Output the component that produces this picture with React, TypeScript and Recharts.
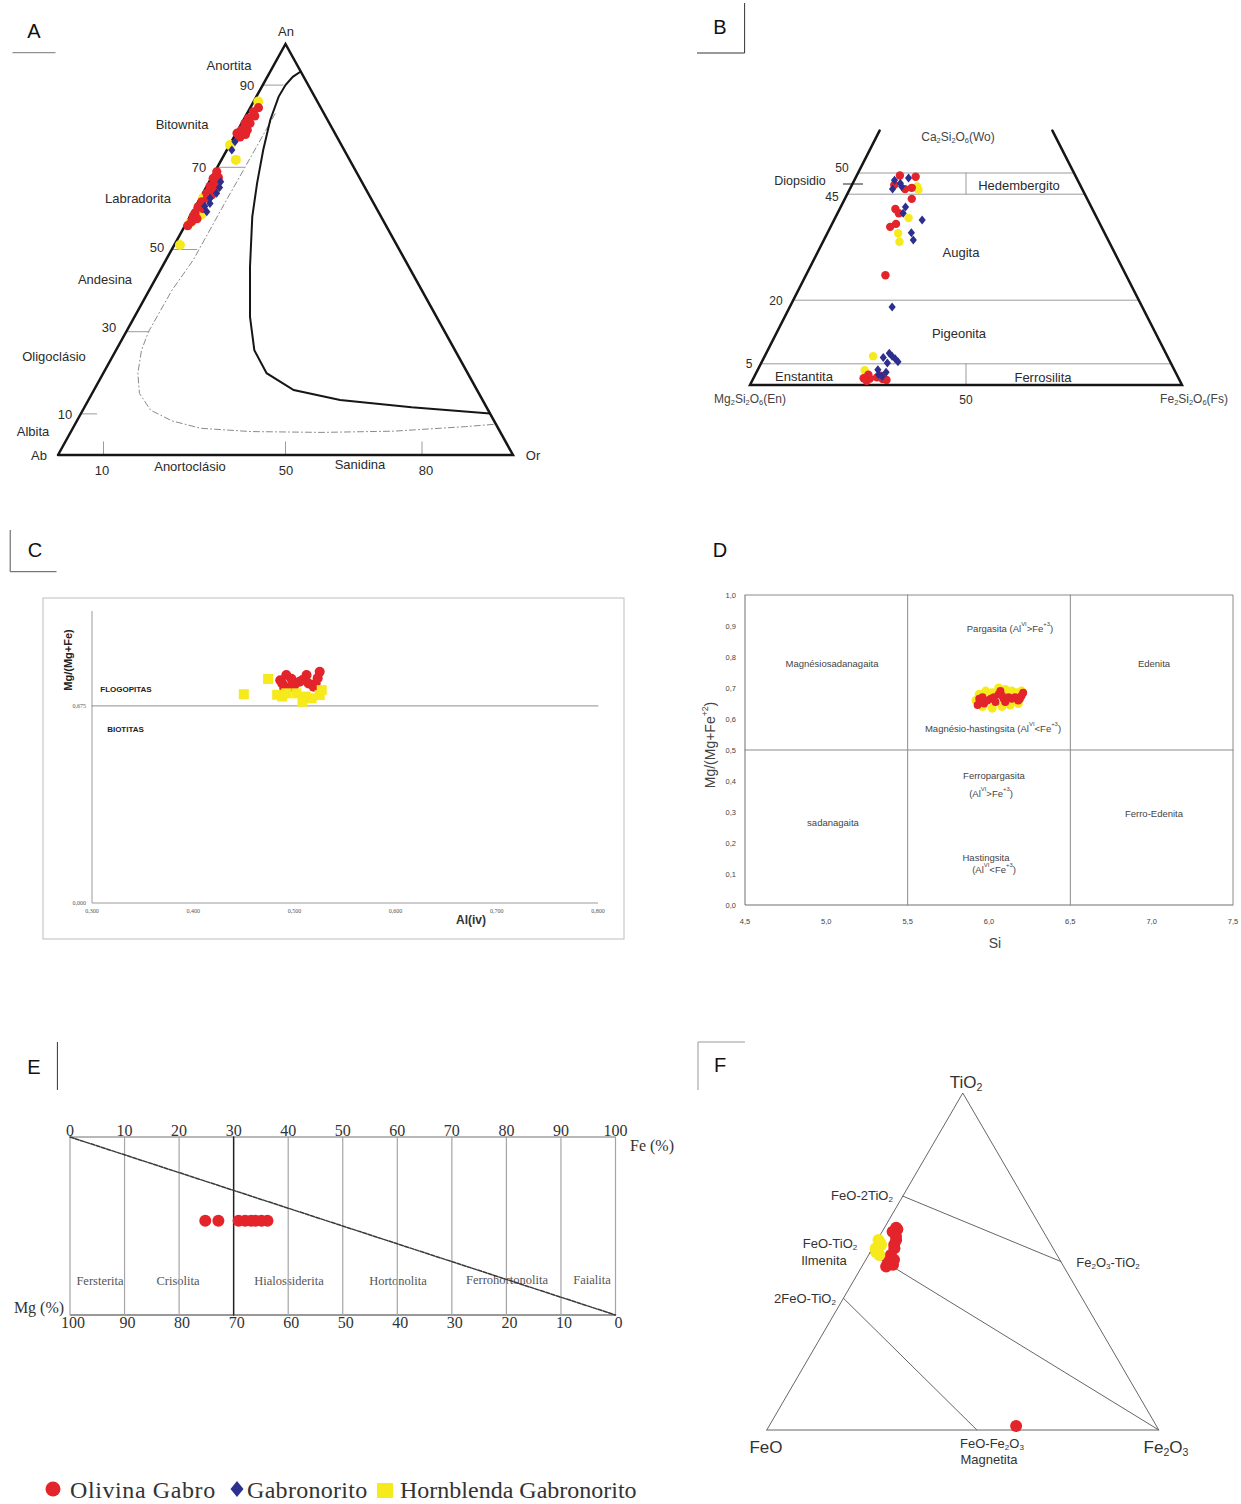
import React, { FC, ReactNode } from 'react';
import { Scatter, ScatterChart, XAxis, YAxis } from 'recharts';

const PAGE_W = 1241;
const PAGE_H = 1504;

const RED = '#e3242b';
const BLUE = '#2c2f8e';
const YELLOW = '#f6e91c';
const INK = '#161616';
const GREY = '#9b9b9b';
const SANS = '"Liberation Sans", Arial, sans-serif';
const SERIF = '"Liberation Serif", "Times New Roman", serif';

// A - feldspar ternary, rows are [An, Or] in %
const plagOlivina = [
    [83.5, 1.2], [81.9, 0.9], [80.7, 0.75], [80.7, 1.85], [79.1, 0.8], [79.1, 2.05], [77.4, 1.3],
    [78.3, 0.2], [82.5, 2.0], [84.5, 1.8], [80.0, 1.4], [78.0, 2.2],
    [68.9, 0.45], [67.3, 0.45], [66.1, 1.45], [65.3, 0.75], [63.7, 0.85], [63.3, 2.15], [61.6, 0.8],
    [60.4, 0.6], [58.8, 0.7], [58.0, 0.7], [56.8, 1.0], [67.5, 1.5], [65.0, 2.0], [62.5, 1.6],
    [60.0, 1.8], [57.5, 1.8], [55.8, 0.6],
];
const plagGabronorito = [
    [76.2, 0.8], [74.2, 1.1], [65.1, 2.95], [61.2, 2.8], [59.2, 3.1], [63.7, 3.0], [62.5, 2.2],
    [60.5, 2.0], [66.5, 2.5],
];
const plagHornblenda = [
    [86.0, 1.0], [75.4, 0.1], [71.8, 3.2], [62.5, 0.65], [59.6, 1.0], [56.4, 0.8], [51.1, 1.25],
    [64.5, 2.2], [58.5, 2.3],
];
const feldsparTriangle = [[0, 0], [100, 0], [0, 100], [0, 0]];
const feldsparSolvus = [
    [93.3, 6.7], [92.0, 5.6], [90.0, 5.0], [87.2, 4.9], [81.5, 5.9], [74.2, 8.0], [66.1, 10.7],
    [58.0, 13.7], [45.8, 19.3], [33.6, 25.4], [25.5, 30.4], [19.9, 35.9], [15.8, 43.9], [13.4, 55.3],
    [11.6, 71.9], [10.1, 89.9],
];
const feldsparDashed = [
    [83.0, 6.2], [70.0, 6.1], [60.0, 6.0], [47.4, 6.0], [40.1, 5.0], [30.0, 4.9], [25.5, 5.6],
    [19.9, 7.6], [15.0, 10.4], [10.9, 14.9], [8.3, 20.9], [6.5, 28.1], [5.7, 39.5], [5.5, 55.3],
    [5.8, 70.9], [6.9, 86.1], [7.5, 92.5],
];
const plagTickLevels = [90, 70, 50, 30, 10];
const plagTickReach = [4.5, 6, 5.5, 5, 3.5];
const orTickValues = [10, 50, 80];

// B - pyroxene quadrilateral, rows are [Wo, Fs] in %
const pxOlivina = [
    [49.4, 10], [49.1, 13.8], [47.2, 9.8], [46.2, 12.8], [46.5, 14.2], [43.9, 15.5], [41.5, 12.9],
    [40.5, 14.2], [38, 14.8], [37.3, 13.8], [25.9, 18.4],
    [1.6, 25.5], [1.5, 27], [1.8, 28.5], [1.4, 30], [2.4, 26.2], [2.2, 29.2], [1.0, 26.5], [1.2, 31],
];
const pxGabronorito = [
    [48.3, 9.3], [48.8, 12.3], [46.2, 9.9], [46.8, 11.7], [47.6, 11], [42, 15], [40.5, 15.2],
    [38.9, 20.4], [35.9, 19.4], [34.2, 20.7], [18.4, 23.7],
    [7.5, 28.5], [6.8, 29.5], [6.2, 30.5], [5.5, 31.5], [6.5, 27.6], [5.2, 29.2], [2.5, 28.5],
    [3.0, 30], [2.0, 29.6], [3.6, 27.8],
];
const pxHornblenda = [
    [46.8, 15.3], [46, 16], [39.4, 17], [35.8, 16.4], [33.8, 17.7], [6.8, 25.1], [3.5, 24.8], [2.5, 25.6],
];
const pxOutline = [[60, 0], [0, 0], [0, 100], [60, 40]];
const pxWoLevels = [50, 45, 20, 5];
const pxSplits = [
    [[45, 27.5], [50, 25]],
    [[0, 50], [5, 47.5]],
];

// C - mica, [Al(iv), Mg/(Mg+Fe)]
const micaOlivina = [
    [0.492, 0.781], [0.488, 0.752], [0.496, 0.741], [0.505, 0.758], [0.512, 0.781], [0.514, 0.752],
    [0.521, 0.752], [0.525, 0.792], [0.523, 0.77], [0.519, 0.741], [0.5, 0.747], [0.49, 0.735],
    [0.508, 0.764], [0.497, 0.768], [0.486, 0.763],
];
const micaHornblenda = [
    [0.45, 0.715], [0.474, 0.767], [0.488, 0.707], [0.511, 0.707], [0.508, 0.689], [0.525, 0.712],
    [0.527, 0.729], [0.517, 0.701], [0.492, 0.718], [0.502, 0.718], [0.483, 0.713],
];
const micaLimit = 0.675;
const alTicks = [0.3, 0.4, 0.5, 0.6, 0.7, 0.8];
const micaTicks = [0, 0.675];

// D - amphibole, [Si, Mg/(Mg+Fe2+)]
const amphOlivina = [
    [5.93, 0.645], [5.94, 0.665], [5.96, 0.67], [5.99, 0.66], [6.01, 0.665], [6.03, 0.67],
    [6.04, 0.655], [6.06, 0.68], [6.07, 0.69], [6.09, 0.665], [6.1, 0.655], [6.12, 0.67],
    [6.14, 0.665], [6.16, 0.67], [6.18, 0.66], [6.2, 0.675], [6.21, 0.685], [6.19, 0.665],
    [5.97, 0.65], [6.08, 0.675],
];
const amphHornblenda = [
    [5.94, 0.68], [5.98, 0.69], [6.02, 0.685], [6.06, 0.7], [6.1, 0.695], [6.14, 0.69],
    [6.17, 0.685], [5.96, 0.64], [6.02, 0.635], [6.08, 0.64], [6.13, 0.645], [6.18, 0.65],
    [6.2, 0.69], [5.92, 0.66],
];
const siTicks = [4.5, 5.0, 5.5, 6.0, 6.5, 7.0, 7.5];
const amphTicks = [0, 0.1, 0.2, 0.3, 0.4, 0.5, 0.6, 0.7, 0.8, 0.9, 1.0];
const siSplits = [5.5, 6.5];
const mgSplit = 0.5;

// E - olivine, Fe %
const olivineFe = [24.8, 27.2, 30.9, 32.1, 33.2, 34.0, 35.1, 36.2];
const olivineRow = 53;
const feTicks = [0, 10, 20, 30, 40, 50, 60, 70, 80, 90, 100];
const feStrong = 30;

// F - Fe-Ti oxides, rows are [TiO2, Fe2O3] in %
const oxOlivina = [
    [60, 3], [59.6, 3.5], [58.8, 2.7], [56.4, 4.8], [53.9, 5.6], [51.9, 5.7], [49.9, 6],
    [49, 7.7], [48.5, 6.2], [55, 5], [57.5, 4.2], [50.5, 7.2], [1.2, 63],
];
const oxHornblenda = [[56.4, 0.3], [53.9, 0.85], [51.9, 2.75], [54.9, 1.7], [52.8, 1.5], [55.5, 1.2]];
const oxTriangle = [[0, 0], [100, 0], [0, 100], [0, 0]];
const oxJoins = [
    [[69.4, 0], [50, 50]],
    [[52.6, 0], [0, 100]],
    [[39.1, 0], [0, 53.6]],
];

type Pt = { x: number; y: number };
const fromAnOr = (rows: number[][]): Pt[] => rows.map(([an, or]) => ({ x: or + an / 2, y: an }));
const fromWoFs = (rows: number[][]): Pt[] => rows.map(([wo, fs]) => ({ x: fs + wo / 2, y: wo }));
const fromTiHem = (rows: number[][]): Pt[] => rows.map(([ti, hem]) => ({ x: hem + ti / 2, y: ti }));
const plain = (rows: number[][]): Pt[] => rows.map(([x, y]) => ({ x, y }));

const noMark = () => <g />;
const circle = (r: number, fill: string) => (p: any) => <circle cx={p.cx} cy={p.cy} r={r} fill={fill} />;
const diamond = (h: number, w: number, fill: string) => (p: any) => (
    <polygon
        points={`${p.cx},${p.cy - h} ${p.cx + w},${p.cy} ${p.cx},${p.cy + h} ${p.cx - w},${p.cy}`}
        fill={fill}
    />
);
const square = (s: number, fill: string) => (p: any) => (
    <rect x={p.cx - s} y={p.cy - s} width={s * 2} height={s * 2} fill={fill} />
);

function path(key: string, data: Pt[], stroke: string, width: number, dash?: string, xAxisId?: string) {
    const axis = xAxisId ? { xAxisId } : {};
    return (
        <Scatter
            key={key}
            {...axis}
            data={data}
            fill="none"
            line={{ stroke, strokeWidth: width, strokeDasharray: dash, strokeLinecap: 'round' }}
            shape={noMark}
            isAnimationActive={false}
        />
    );
}

// margins that put the plot area on the given page rectangle
const edges = (x0: number, y0: number, x1: number, y1: number, padL = 0, padT = 0, padB = 0) => ({
    left: x0 - padL,
    top: y0 - padT,
    right: PAGE_W - x1,
    bottom: PAGE_H - y1 - padB,
});

const comma = (digits: number) => (v: number) => v.toFixed(digits).replace('.', ',');

const Layer: FC<{ children: ReactNode }> = ({ children }) => (
    <div style={{ position: 'absolute', left: 0, top: 0 }}>{children}</div>
);

type Part = [string, string?];
const Txt: FC<{
    x: number;
    y: number;
    size?: number;
    parts?: Part[];
    children?: ReactNode;
    anchor?: 'start' | 'middle' | 'end';
    fill?: string;
    family?: string;
    weight?: number | string;
    rotate?: number;
    spacing?: number;
}> = ({ x, y, size = 13, parts, children, anchor = 'middle', fill = '#2b2b2b', family = SANS, weight, rotate, spacing }) => {
    let shift = 0;
    return (
        <text
            x={x}
            y={y}
            fontSize={size}
            textAnchor={anchor}
            dominantBaseline="central"
            fill={fill}
            fontFamily={family}
            fontWeight={weight}
            letterSpacing={spacing}
            transform={rotate ? `rotate(${rotate} ${x} ${y})` : undefined}
        >
            {parts
                ? parts.map(([s, kind], i) => {
                      const target = kind === 'sub' ? size * 0.28 : kind === 'sup' ? -size * 0.38 : 0;
                      const dy = target - shift;
                      shift = target;
                      return (
                          <tspan key={i} dy={dy} fontSize={kind ? size * 0.62 : size}>
                              {s}
                          </tspan>
                      );
                  })
                : children}
        </text>
    );
};

const Annotations = () => (
    <svg width={PAGE_W} height={PAGE_H} style={{ position: 'absolute', left: 0, top: 0 }}>
        {/* A */}
        <Txt x={34} y={31} size={20} fill="#111">A</Txt>
        <line x1={12.5} y1={52.7} x2={55.5} y2={52.7} stroke="#777" />
        <Txt x={286} y={31}>An</Txt>
        <Txt x={229} y={65}>Anortita</Txt>
        <Txt x={247} y={85}>90</Txt>
        <Txt x={182} y={124}>Bitownita</Txt>
        <Txt x={199} y={167}>70</Txt>
        <Txt x={138} y={198}>Labradorita</Txt>
        <Txt x={157} y={247}>50</Txt>
        <Txt x={105} y={279}>Andesina</Txt>
        <Txt x={109} y={327}>30</Txt>
        <Txt x={54} y={356}>Oligoclásio</Txt>
        <Txt x={65} y={414}>10</Txt>
        <Txt x={33} y={431}>Albita</Txt>
        <Txt x={39} y={455}>Ab</Txt>
        <Txt x={533} y={455}>Or</Txt>
        <Txt x={102} y={470}>10</Txt>
        <Txt x={190} y={466}>Anortoclásio</Txt>
        <Txt x={286} y={470}>50</Txt>
        <Txt x={360} y={464}>Sanidina</Txt>
        <Txt x={426} y={470}>80</Txt>

        {/* B */}
        <Txt x={720} y={27} size={20} fill="#111">B</Txt>
        <line x1={744.6} y1={3} x2={744.6} y2={53} stroke="#333" />
        <line x1={697} y1={53} x2={744.6} y2={53} stroke="#333" />
        <Txt x={958} y={137} size={12} fill="#444" parts={[['Ca'], ['2', 'sub'], ['Si'], ['2', 'sub'], ['O'], ['6', 'sub'], ['(Wo)']]} />
        <Txt x={842} y={168} size={12}>50</Txt>
        <Txt x={800} y={181} size={12.5}>Diopsidio</Txt>
        <line x1={843} y1={184} x2={863} y2={184} stroke="#222" />
        <Txt x={832} y={197} size={12}>45</Txt>
        <Txt x={1019} y={185}>Hedembergito</Txt>
        <Txt x={961} y={252}>Augita</Txt>
        <Txt x={776} y={301} size={12}>20</Txt>
        <Txt x={959} y={333}>Pigeonita</Txt>
        <Txt x={749} y={364} size={12}>5</Txt>
        <Txt x={804} y={376}>Enstantita</Txt>
        <Txt x={1043} y={377}>Ferrosilita</Txt>
        <Txt x={750} y={399} size={12} fill="#444" parts={[['Mg'], ['2', 'sub'], ['Si'], ['2', 'sub'], ['O'], ['6', 'sub'], ['(En)']]} />
        <Txt x={966} y={400} size={12}>50</Txt>
        <Txt x={1194} y={399} size={12} fill="#444" parts={[['Fe'], ['2', 'sub'], ['Si'], ['2', 'sub'], ['O'], ['6', 'sub'], ['(Fs)']]} />

        {/* C */}
        <Txt x={35} y={550} size={20} fill="#111">C</Txt>
        <line x1={10.2} y1={530} x2={10.2} y2={571.7} stroke="#555" />
        <line x1={10.2} y1={571.7} x2={56.5} y2={571.7} stroke="#555" />
        <rect x={43} y={598} width={581} height={341} fill="none" stroke="#bdbdbd" />
        <Txt x={68} y={660} size={11} weight="bold" rotate={-90} fill="#222">Mg/(Mg+Fe)</Txt>
        <Txt x={126} y={689} size={8} weight="bold" fill="#222">FLOGOPITAS</Txt>
        <Txt x={125.5} y={729} size={8} weight="bold" fill="#222">BIOTITAS</Txt>
        <Txt x={471} y={920} size={12} weight="bold" fill="#333">Al(iv)</Txt>

        {/* D */}
        <Txt x={720} y={550} size={20} fill="#111">D</Txt>
        <Txt x={832} y={663} size={9.5} fill="#444">Magnésiosadanagaita</Txt>
        <Txt x={1010} y={628} size={9.5} fill="#444" parts={[['Pargasita (Al'], ['VI', 'sup'], ['>Fe'], ['+3', 'sup'], [')']]} />
        <Txt x={1154} y={663} size={9.5} fill="#444">Edenita</Txt>
        <Txt x={993} y={728} size={9.5} fill="#444" parts={[['Magnésio-hastingsita (Al'], ['VI', 'sup'], ['<Fe'], ['+3', 'sup'], [')']]} />
        <Txt x={994} y={775} size={9.5} fill="#444">Ferropargasita</Txt>
        <Txt x={991} y={793} size={9.5} fill="#444" parts={[['(Al'], ['VI', 'sup'], ['>Fe'], ['+3', 'sup'], [')']]} />
        <Txt x={833} y={822} size={9.5} fill="#444">sadanagaita</Txt>
        <Txt x={1154} y={813} size={9.5} fill="#444">Ferro-Edenita</Txt>
        <Txt x={986} y={857} size={9.5} fill="#444">Hastingsita</Txt>
        <Txt x={994} y={869} size={9.5} fill="#444" parts={[['(Al'], ['VI', 'sup'], ['<Fe'], ['+3', 'sup'], [')']]} />
        <Txt x={995} y={943} size={14} fill="#444">Si</Txt>
        <Txt x={710} y={745} size={14} fill="#444" rotate={-90} parts={[['Mg/(Mg+Fe'], ['+2', 'sup'], [')']]} />

        {/* E */}
        <Txt x={34} y={1067} size={20} fill="#111">E</Txt>
        <line x1={57.4} y1={1042} x2={57.4} y2={1090} stroke="#333" />
        <Txt x={652} y={1145} size={16} family={SERIF} fill="#333">Fe (%)</Txt>
        <Txt x={39} y={1307} size={16} family={SERIF} fill="#333">Mg (%)</Txt>
        <Txt x={100} y={1281} size={12.5} family={SERIF} fill="#555">Fersterita</Txt>
        <Txt x={178} y={1281} size={12.5} family={SERIF} fill="#555">Crisolita</Txt>
        <Txt x={289} y={1281} size={12.5} family={SERIF} fill="#555">Hialossiderita</Txt>
        <Txt x={398} y={1281} size={12.5} family={SERIF} fill="#555">Hortonolita</Txt>
        <Txt x={507} y={1280} size={12.5} family={SERIF} fill="#555">Ferrohortonolita</Txt>
        <Txt x={592} y={1280} size={12.5} family={SERIF} fill="#555">Faialita</Txt>

        {/* F */}
        <Txt x={720} y={1065} size={20} fill="#111">F</Txt>
        <line x1={698} y1={1042} x2={698} y2={1090} stroke="#999" />
        <line x1={698} y1={1042} x2={745} y2={1042} stroke="#999" />
        <Txt x={966} y={1082} size={17} fill="#333" parts={[['TiO'], ['2', 'sub']]} />
        <Txt x={862} y={1195} size={13} fill="#333" parts={[['FeO-2TiO'], ['2', 'sub']]} />
        <Txt x={830} y={1243} size={13} fill="#333" parts={[['FeO-TiO'], ['2', 'sub']]} />
        <Txt x={824} y={1260} size={13} fill="#333">Ilmenita</Txt>
        <Txt x={805} y={1298} size={13} fill="#333" parts={[['2FeO-TiO'], ['2', 'sub']]} />
        <Txt x={1108} y={1262} size={13} fill="#333" parts={[['Fe'], ['2', 'sub'], ['O'], ['3', 'sub'], ['-TiO'], ['2', 'sub']]} />
        <Txt x={766} y={1447} size={17} fill="#333">FeO</Txt>
        <Txt x={992} y={1443} size={13} fill="#333" parts={[['FeO-Fe'], ['2', 'sub'], ['O'], ['3', 'sub']]} />
        <Txt x={989} y={1459} size={13} fill="#333">Magnetita</Txt>
        <Txt x={1166} y={1447} size={17} fill="#333" parts={[['Fe'], ['2', 'sub'], ['O'], ['3', 'sub']]} />

        {/* legend */}
        <circle cx={53} cy={1489} r={7.5} fill={RED} />
        <Txt x={70} y={1490} size={24} anchor="start" family={SERIF} fill="#333" spacing={0.6}>Olivina Gabro</Txt>
        <polygon points="237,1481 243.5,1489 237,1497 230.5,1489" fill={BLUE} />
        <Txt x={247} y={1490} size={24} anchor="start" family={SERIF} fill="#333" spacing={0.3}>Gabronorito</Txt>
        <rect x={377} y={1483} width={16} height={15} fill={YELLOW} />
        <Txt x={400} y={1490} size={24} anchor="start" family={SERIF} fill="#333">Hornblenda Gabronorito</Txt>
    </svg>
);

const FeldsparPanel = () => (
    <Layer>
        <ScatterChart width={PAGE_W} height={PAGE_H} margin={edges(58, 44, 513, 455)}>
            <XAxis type="number" dataKey="x" domain={[0, 100]} hide height={0} />
            <YAxis type="number" dataKey="y" domain={[0, 100]} hide width={0} />
            {path('a-dash', fromAnOr(feldsparDashed), '#8a8a8a', 1, '6 3 1 3')}
            {plagTickLevels.map((an, i) =>
                path(`a-tick-${an}`, fromAnOr([[an, 0], [an, plagTickReach[i]]]), GREY, 1),
            )}
            {orTickValues.map((v) => path(`a-or-${v}`, plain([[v, 0], [v, 3.2]]), GREY, 1))}
            {path('a-solvus', fromAnOr(feldsparSolvus), INK, 2)}
            {path('a-frame', fromAnOr(feldsparTriangle), INK, 2.5)}
            <Scatter data={fromAnOr(plagHornblenda)} shape={circle(5, YELLOW)} isAnimationActive={false} />
            <Scatter data={fromAnOr(plagOlivina)} shape={circle(4.6, RED)} isAnimationActive={false} />
            <Scatter data={fromAnOr(plagGabronorito)} shape={diamond(4.5, 3.6, BLUE)} isAnimationActive={false} />
        </ScatterChart>
    </Layer>
);

const PyroxenePanel = () => (
    <Layer>
        <ScatterChart width={PAGE_W} height={PAGE_H} margin={edges(750, 385 - 60 * 4.24, 1182, 385)}>
            <XAxis type="number" dataKey="x" domain={[0, 100]} hide height={0} />
            <YAxis type="number" dataKey="y" domain={[0, 60]} hide width={0} />
            {pxWoLevels.map((wo) => path(`b-wo-${wo}`, fromWoFs([[wo, 0], [wo, 100 - wo]]), GREY, 1))}
            {pxSplits.map((s, i) => path(`b-split-${i}`, fromWoFs(s), GREY, 1))}
            {path('b-frame', fromWoFs(pxOutline), INK, 2.5)}
            <Scatter data={fromWoFs(pxHornblenda)} shape={circle(4.2, YELLOW)} isAnimationActive={false} />
            <Scatter data={fromWoFs(pxOlivina)} shape={circle(4.2, RED)} isAnimationActive={false} />
            <Scatter data={fromWoFs(pxGabronorito)} shape={diamond(4.5, 3.6, BLUE)} isAnimationActive={false} />
        </ScatterChart>
    </Layer>
);

const MicaPanel = () => (
    <Layer>
        <ScatterChart width={PAGE_W} height={PAGE_H} margin={edges(92, 611, 598, 903, 28, 0, 18)}>
            <XAxis
                type="number"
                dataKey="x"
                domain={[0.3, 0.8]}
                ticks={alTicks}
                tickFormatter={comma(3)}
                height={18}
                tickLine={false}
                tickSize={0}
                tickMargin={6}
                axisLine={{ stroke: '#9a9a9a' }}
                tick={{ fontSize: 6, fill: '#555', fontFamily: SERIF }}
            />
            <YAxis
                type="number"
                dataKey="y"
                domain={[0, 1]}
                ticks={micaTicks}
                tickFormatter={comma(3)}
                width={28}
                tickLine={false}
                tickSize={0}
                tickMargin={6}
                axisLine={{ stroke: '#9a9a9a' }}
                tick={{ fontSize: 6, fill: '#555', fontFamily: SERIF }}
            />
            {path('c-limit', plain([[0.3, micaLimit], [0.8, micaLimit]]), '#8f8f8f', 1)}
            <Scatter data={plain(micaOlivina)} shape={circle(5, RED)} isAnimationActive={false} />
            <Scatter data={plain(micaHornblenda)} shape={square(5, YELLOW)} isAnimationActive={false} />
        </ScatterChart>
    </Layer>
);

const AmphibolePanel = () => (
    <Layer>
        <ScatterChart width={PAGE_W} height={PAGE_H} margin={edges(745, 595, 1233, 905, 34, 0, 26)}>
            <XAxis
                type="number"
                dataKey="x"
                domain={[4.5, 7.5]}
                ticks={siTicks}
                tickFormatter={comma(1)}
                height={26}
                tickLine={false}
                tickSize={0}
                tickMargin={14}
                axisLine={{ stroke: '#6f6f6f' }}
                tick={{ fontSize: 7.5, fill: '#444', fontFamily: SANS }}
            />
            <YAxis
                type="number"
                dataKey="y"
                domain={[0, 1]}
                ticks={amphTicks}
                tickFormatter={comma(1)}
                width={34}
                tickLine={false}
                tickSize={0}
                tickMargin={9}
                axisLine={{ stroke: '#6f6f6f' }}
                tick={{ fontSize: 7.5, fill: '#444', fontFamily: SANS }}
            />
            {siSplits.map((si) => path(`d-si-${si}`, plain([[si, 0], [si, 1]]), '#8a8a8a', 1))}
            {path('d-mg', plain([[4.5, mgSplit], [7.5, mgSplit]]), '#8a8a8a', 1)}
            {path('d-frame', plain([[4.5, 1], [7.5, 1], [7.5, 0]]), '#8a8a8a', 1)}
            <Scatter data={plain(amphHornblenda)} shape={circle(4.5, YELLOW)} isAnimationActive={false} />
            <Scatter data={plain(amphOlivina)} shape={circle(4, RED)} isAnimationActive={false} />
        </ScatterChart>
    </Layer>
);

const OlivinePanel = () => (
    <Layer>
        <ScatterChart width={PAGE_W} height={PAGE_H} margin={edges(70, 1137, 615.5, 1315, 0, 24, 24)}>
            <XAxis
                xAxisId="fe"
                orientation="top"
                type="number"
                dataKey="x"
                domain={[0, 100]}
                ticks={feTicks}
                height={24}
                tickLine={false}
                tickSize={0}
                tickMargin={1}
                axisLine={{ stroke: '#b8b8b8', strokeWidth: 2 }}
                tick={{ fontSize: 16, fill: '#333', fontFamily: SERIF }}
            />
            <XAxis
                xAxisId="mg"
                orientation="bottom"
                type="number"
                dataKey="x"
                domain={[0, 100]}
                ticks={feTicks}
                tickFormatter={(v: number) => String(100 - v)}
                height={24}
                tickLine={false}
                tickSize={0}
                tickMargin={2}
                axisLine={{ stroke: '#999', strokeWidth: 2 }}
                tick={{ fontSize: 16, fill: '#333', fontFamily: SERIF, dx: 3 }}
            />
            <YAxis type="number" dataKey="y" domain={[0, 100]} hide width={0} />
            {feTicks.map((fe) =>
                path(
                    `e-grid-${fe}`,
                    plain([[fe, 0], [fe, 100]]),
                    fe === feStrong ? '#222' : '#a5a5a5',
                    fe === feStrong ? 1.5 : 1.2,
                    undefined,
                    'mg',
                ),
            )}
            {path('e-diag', plain([[0, 100], [100, 0]]), '#3a3a3a', 1.5, '4 1.5', 'fe')}
            <Scatter
                xAxisId="fe"
                data={olivineFe.map((fe) => ({ x: fe, y: olivineRow }))}
                shape={circle(6, RED)}
                isAnimationActive={false}
            />
        </ScatterChart>
    </Layer>
);

const OxidePanel = () => (
    <Layer>
        <ScatterChart width={PAGE_W} height={PAGE_H} margin={edges(766.8, 1093, 1158.8, 1430)}>
            <XAxis type="number" dataKey="x" domain={[0, 100]} hide height={0} />
            <YAxis type="number" dataKey="y" domain={[0, 100]} hide width={0} />
            {oxJoins.map((j, i) => path(`f-join-${i}`, fromTiHem(j), '#666', 1))}
            {path('f-frame', fromTiHem(oxTriangle), '#666', 1)}
            <Scatter data={fromTiHem(oxOlivina)} shape={circle(6, RED)} isAnimationActive={false} />
            <Scatter data={fromTiHem(oxHornblenda)} shape={circle(6, YELLOW)} isAnimationActive={false} />
        </ScatterChart>
    </Layer>
);

export default function App() {
    return (
        <div
            style={{
                position: 'absolute',
                left: 0,
                top: 0,
                width: PAGE_W,
                height: PAGE_H,
                background: '#fff',
                overflow: 'hidden',
            }}
        >
            <Annotations />
            <FeldsparPanel />
            <PyroxenePanel />
            <MicaPanel />
            <AmphibolePanel />
            <OlivinePanel />
            <OxidePanel />
        </div>
    );
}
